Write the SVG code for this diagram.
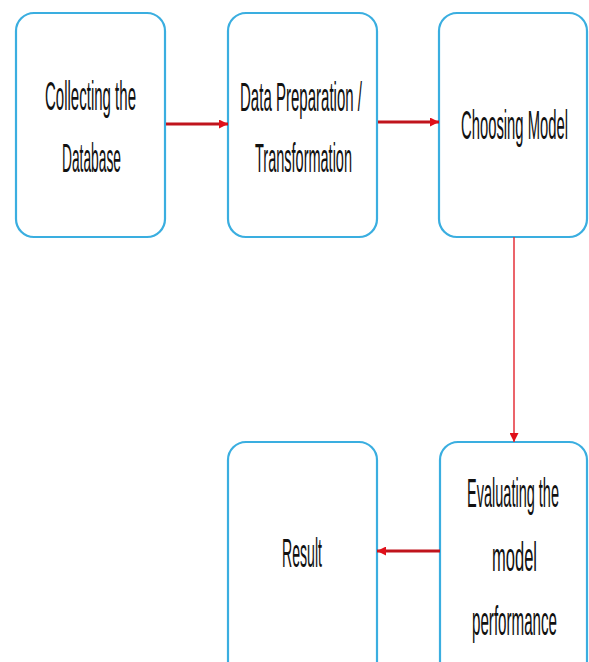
<svg xmlns="http://www.w3.org/2000/svg" width="589" height="662" viewBox="0 0 589 662">
<defs>
<style>
.box{fill:#ffffff;stroke:#3aaee0;stroke-width:2.2}
.lbl{font-family:"Liberation Sans Narrow","Liberation Sans",Arial,sans-serif;font-size:18px;fill:#111;text-anchor:middle}
.conn{stroke:#c0141c;stroke-width:3;fill:none}
.vconn{stroke:#e5303a;stroke-width:1.5;fill:none}
</style>
<marker id="ah" viewBox="0 0 10 10" refX="10" refY="5" markerWidth="9" markerHeight="9" markerUnits="userSpaceOnUse" orient="auto">
<path d="M0,0 L10,5 L0,10 Z" fill="#e0101a"/>
</marker>
</defs>
<rect width="589" height="662" fill="#ffffff"/>
<g id="n1">
<rect class="box" x="16" y="13" width="149" height="224" rx="18"/>
<text class="lbl" transform="translate(90.5,110) scale(1,2.3)" textLength="91" lengthAdjust="spacingAndGlyphs">Collecting the</text>
<text class="lbl" transform="translate(91.5,172) scale(1,2.3)" textLength="59" lengthAdjust="spacingAndGlyphs">Database</text>
</g>
<g id="n2">
<rect class="box" x="228" y="13" width="149" height="224" rx="18"/>
<text class="lbl" transform="translate(301,111) scale(1,2.3)" textLength="122" lengthAdjust="spacingAndGlyphs">Data Preparation /</text>
<text class="lbl" transform="translate(303.5,172) scale(1,2.3)" textLength="97" lengthAdjust="spacingAndGlyphs">Transformation</text>
</g>
<g id="n3">
<rect class="box" x="439" y="13" width="148" height="224" rx="18"/>
<text class="lbl" transform="translate(514.5,139) scale(1,2.3)" textLength="107" lengthAdjust="spacingAndGlyphs">Choosing Model</text>
</g>
<g id="n4">
<rect class="box" x="440" y="442" width="147" height="240" rx="18"/>
<text class="lbl" transform="translate(513,507) scale(1,2.3)" textLength="92" lengthAdjust="spacingAndGlyphs">Evaluating the</text>
<text class="lbl" transform="translate(514.5,571) scale(1,2.3)" textLength="45" lengthAdjust="spacingAndGlyphs">model</text>
<text class="lbl" transform="translate(514.5,635) scale(1,2.3)" textLength="85" lengthAdjust="spacingAndGlyphs">performance</text>
</g>
<g id="n5">
<rect class="box" x="228" y="442" width="149" height="240" rx="18"/>
<text class="lbl" transform="translate(302,567) scale(1,2.3)" textLength="40" lengthAdjust="spacingAndGlyphs">Result</text>
</g>
<g id="connectors">
<line class="conn" x1="166" y1="124" x2="228" y2="124" marker-end="url(#ah)"/>
<line class="conn" x1="378" y1="122" x2="439" y2="122" marker-end="url(#ah)"/>
<line class="vconn" x1="514" y1="237" x2="514" y2="442" marker-end="url(#ah)"/>
<line class="conn" x1="440" y1="551" x2="377" y2="551" marker-end="url(#ah)"/>
</g>
</svg>
